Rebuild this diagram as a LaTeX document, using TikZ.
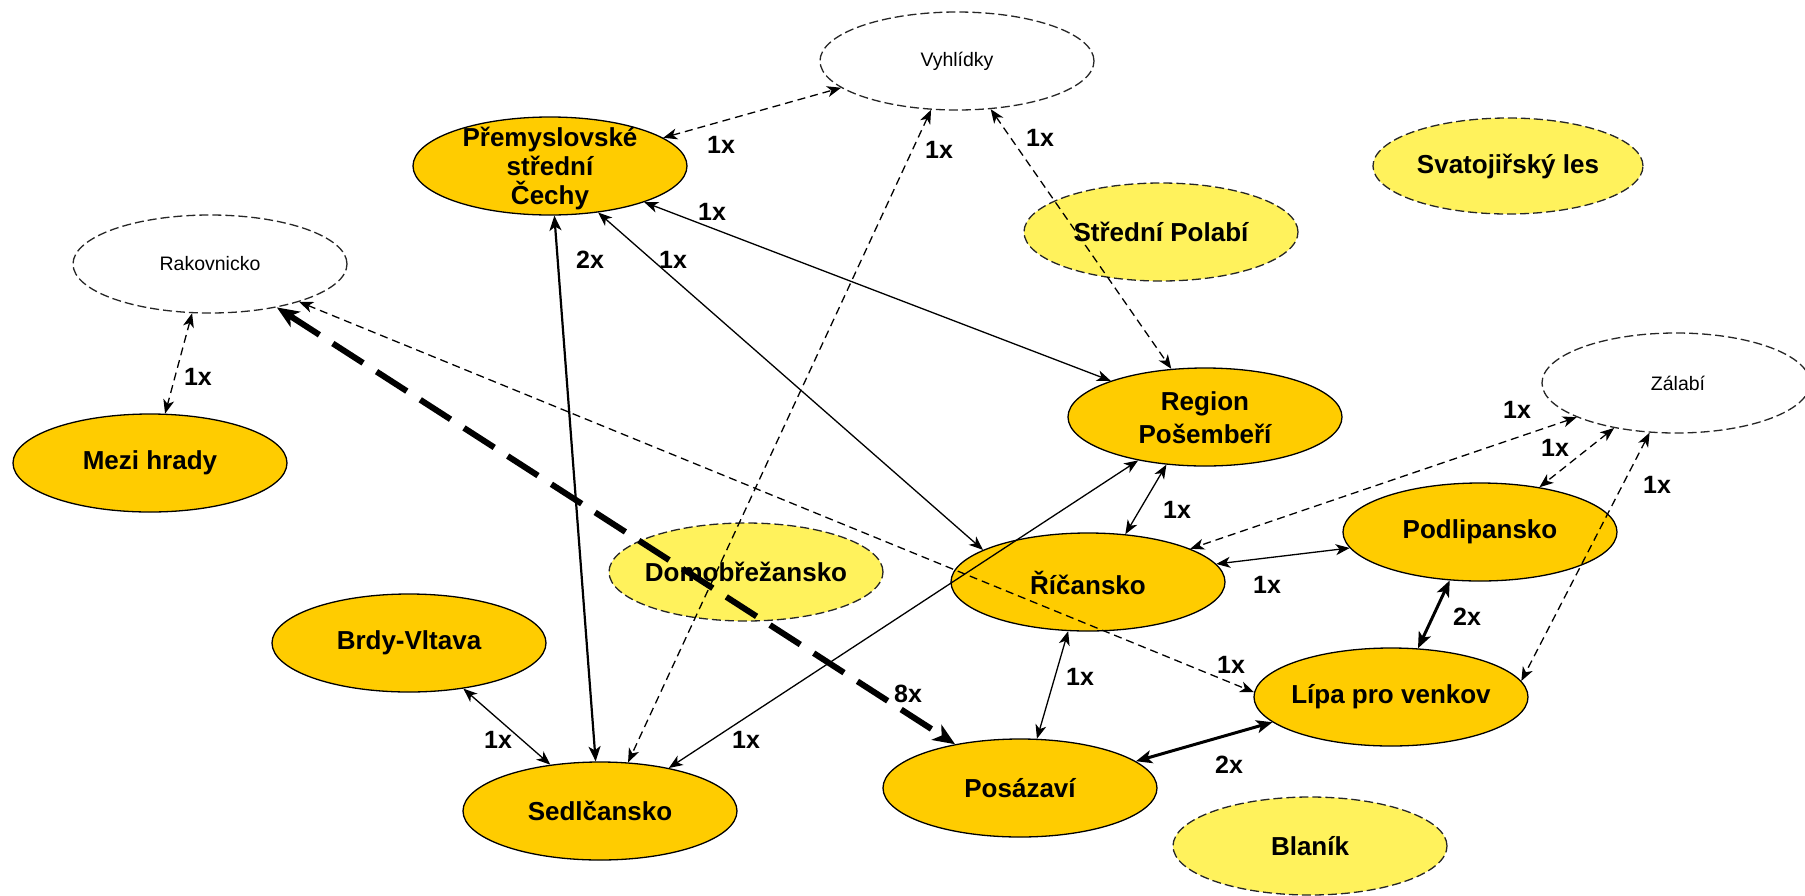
\documentclass[tikz,border=0pt]{standalone}
\usepackage{fontspec}
\setmainfont{Liberation Sans}
\usetikzlibrary{arrows.meta,shapes.geometric}
\definecolor{gold}{HTML}{FFCC00}
\definecolor{lyellow}{HTML}{FFF25C}
\begin{document}
\begin{tikzpicture}[x=1pt,y=-1pt,
  base/.style={ellipse, minimum width=274pt, minimum height=98pt, inner sep=0pt, line width=1.3pt},
  goldnode/.style={base, draw=black, fill=gold},
  yelnode/.style={base, draw=black!85, fill=lyellow, dash pattern=on 9pt off 4pt},
  whitenode/.style={base, draw=black!85, fill=white, dash pattern=on 9pt off 4pt},
  bt/.style={font=\fontsize{26}{29}\selectfont\bfseries, align=center, inner sep=0pt},
  rt/.style={font=\fontsize{19.5}{22}\selectfont, inner sep=0pt},
  lab/.style={font=\fontsize{25}{28}\selectfont\bfseries, inner sep=0pt},
  tip/.style={{Stealth[length=14pt,width=11pt,inset=4pt]}-{Stealth[length=14pt,width=11pt,inset=4pt]}},
  con/.style={line width=1.3pt, tip},
  dcon/.style={con, dash pattern=on 8pt off 5pt},
  mcon/.style={line width=2.2pt, {Stealth[length=15pt,width=12pt,inset=4pt]}-{Stealth[length=15pt,width=12pt,inset=4pt]}},
  tcon/.style={line width=3pt, {Stealth[length=16pt,width=13pt,inset=4pt]}-{Stealth[length=16pt,width=13pt,inset=4pt]}},
  bigcon/.style={line width=6pt, dash pattern=on 36pt off 16pt, {Stealth[length=22pt,width=18pt,inset=6pt]}-{Stealth[length=22pt,width=18pt,inset=6pt]}}
]
\useasboundingbox (0,0) rectangle (1805,895);

% nodes
\node[whitenode] (vy) at (957,61) {};
\node[rt] (vyT) at (957,61) {Vyhlídky};
\node[goldnode] (pr) at (550,166) {};
\node[bt] (prT) at (550,168) {Přemyslovské\\střední\\Čechy};
\node[whitenode] (rk) at (210,264) {};
\node[rt] (rkT) at (210,264) {Rakovnicko};
\node[goldnode] (mz) at (150,463) {};
\node[bt] (mzT) at (150,463) {Mezi hrady};
\node[yelnode] (sp) at (1161,232) {};
\node[bt] (spT) at (1161,232) {Střední Polabí};
\node[yelnode, minimum width=270pt, minimum height=96pt] (sv) at (1508,166) {};
\node[bt] (svT) at (1508,166) {Svatojiřský les};
\node[goldnode] (rg) at (1205,417) {};
\node[bt, font=\fontsize{26}{33}\selectfont\bfseries] (rgT) at (1205,418) {Region\\Pošembeří};
\node[whitenode, minimum width=268pt, minimum height=100pt] (za) at (1676,383) {};
\node[rt] (zaT) at (1678,383) {Zálabí};
\node[goldnode] (pl) at (1480,532) {};
\node[bt] (plT) at (1480,532) {Podlipansko};
\node[goldnode] (ri) at (1088,582) {};
\node[bt] (riT) at (1088,583) {Říčansko};
\node[goldnode] (li) at (1391,697) {};
\node[bt] (liT) at (1391,697) {Lípa pro venkov};
\node[goldnode] (po) at (1020,788) {};
\node[bt] (poT) at (1020,788) {Posázaví};
\node[yelnode] (bl) at (1310,846) {};
\node[bt] (blT) at (1310,846) {Blaník};
\node[yelnode] (dm) at (746,572) {};
\node[bt] (dmT) at (746,572) {Domobřežansko};
\node[goldnode] (br) at (409,643) {};
\node[bt] (brT) at (409,643) {Brdy-Vltava};
\node[goldnode] (se) at (600,811) {};
\node[bt] (seT) at (600,811) {Sedlčansko};

% connectors
\draw[dcon] (pr.14) -- (vy.193.6);
\draw[dcon] (vy.242) -- (se.60.4);
\draw[dcon] (vy.305.5) -- (rg.125);
\draw[con] (pr.339.2) -- (rg.159.7);
\draw[con] (pr.316.7) -- (ri.163.4);
\draw[mcon] (pr.275.6) -- (se.95.6);
\draw[dcon] (rk.250.9) -- (mz.73.6);
\draw[bigcon] (rk.327.1) -- (po.146.7);
\draw[dcon] (rk.337.6) -- (li.178.4);
\draw[con] (rg.231.2) -- (ri.52.8);
\draw[con] (rg.213.1) -- (se.32.6);
\draw[dcon] (za.199.1) -- (ri.18.4);
\draw[dcon] (za.216.4) -- (pl.37.9);
\draw[dcon] (za.242.5) -- (li.7.3);
\draw[con] (ri.8.1) -- (pl.187);
\draw[tcon] (pl.238.7) -- (li.61.6);
\draw[con] (ri.248.2) -- (po.71.2);
\draw[tcon] (po.13.8) -- (li.192.8);
\draw[con] (br.320) -- (se.137.8);

% labels
\node[lab] (l1) at (721,145) {1x};
\node[lab] (l2) at (939,150) {1x};
\node[lab] (l3) at (1040,138) {1x};
\node[lab] (l4) at (712,212) {1x};
\node[lab] (l5) at (673,260) {1x};
\node[lab] (l6) at (590,260) {2x};
\node[lab] (l7) at (198,377) {1x};
\node[lab] (l8) at (908,694) {8x};
\node[lab] (l9) at (1231,665) {1x};
\node[lab] (l10) at (1177,510) {1x};
\node[lab] (l11) at (746,740) {1x};
\node[lab] (l12) at (1517,410) {1x};
\node[lab] (l13) at (1555,448) {1x};
\node[lab] (l14) at (1657,485) {1x};
\node[lab] (l15) at (1267,585) {1x};
\node[lab] (l16) at (1467,617) {2x};
\node[lab] (l17) at (1080,677) {1x};
\node[lab] (l18) at (1229,765) {2x};
\node[lab] (l19) at (498,740) {1x};
\end{tikzpicture}
\end{document}
